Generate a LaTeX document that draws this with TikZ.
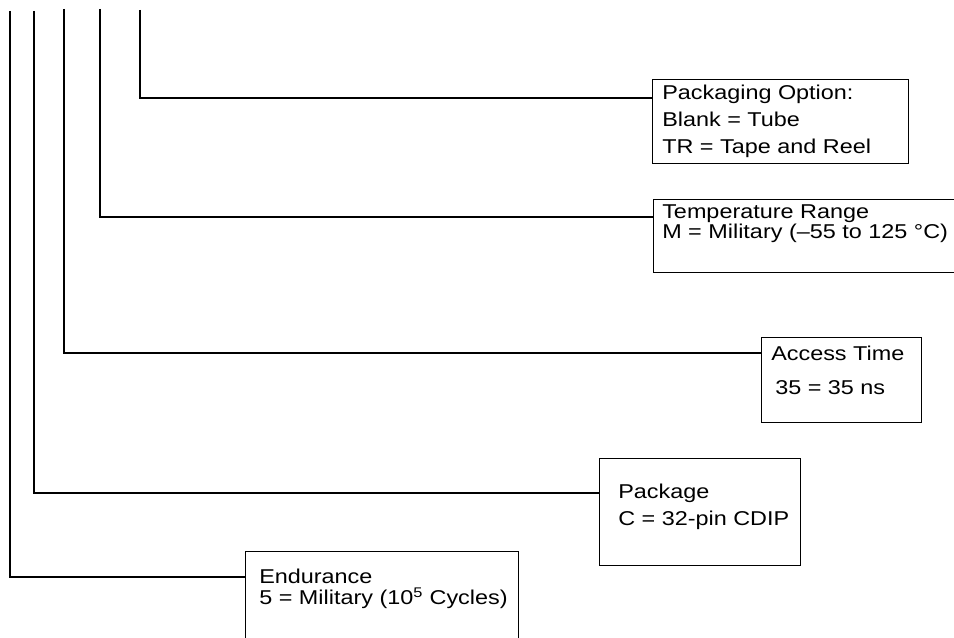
\documentclass[tikz,border=0pt]{standalone}
\usepackage{fontspec}
\setmainfont[FakeStretch=1.17]{Liberation Sans}
\usetikzlibrary{positioning}

\begin{document}
\begin{tikzpicture}[
  x=0.75pt, y=-0.75pt,
  every node/.style = {font=\fontsize{15pt}{15pt}\selectfont},
  optbox/.style = {rectangle, draw=black, line width=1.1pt,
                   inner sep=0pt, anchor=north west},
  txt/.style    = {anchor=base west, inner sep=0pt, align=left},
  lead/.style   = {line width=1.1pt, black},
]
\useasboundingbox (0,0) rectangle (954,638);
\clip (0,0) rectangle (954,638);

%% ── Boxes ────────────────────────────────────────────────────────────────
\node[optbox, minimum width=192pt,    minimum height=63pt]    at (652,79)  (pkgopt) {};
\node[optbox, minimum width=234pt,    minimum height=54.75pt] at (653,199) (temp)   {};
\node[optbox, minimum width=120pt,    minimum height=63.75pt] at (761,337) (access) {};
\node[optbox, minimum width=150.75pt, minimum height=80.25pt] at (599,458) (pkg)    {};
\node[optbox, minimum width=204.75pt, minimum height=82.5pt]  at (245,551) (endur)  {};

%% ── Box texts (anchored on the last line) ───────────────────────────────
\node[txt] at ([shift={(10,75)}]pkgopt.north west) (pkgopt-t) {
  Packaging Option:\\[5.25pt]
  Blank = Tube\\[5.25pt]
  TR = Tape and Reel
};
\node[txt] at ([shift={(9,40)}]temp.north west) (temp-t) {
  Temperature Range\\
  M = Military (–55 to 125 °C)
};
\node[txt] at ([shift={(10,57)}]access.north west) (access-t) {
  Access Time\\[10.5pt]
  \hspace{3pt}35 = 35 ns
};
\node[txt] at ([shift={(19,67)}]pkg.north west) (pkg-t) {
  Package\\[5.25pt]
  C = 32-pin CDIP
};
\node[txt] at ([shift={(14,53)}]endur.north west) (endur-t) {
  Endurance\\[0.75pt]
  5 = Military (10\textsuperscript{5} Cycles)
};

%% ── Leads from the part number ───────────────────────────────────────────
\coordinate (endtop)  at (10,11);
\coordinate (pkgtop)  at (34,11);
\coordinate (acctop)  at (64,9);
\coordinate (temptop) at (100,9);
\coordinate (opttop)  at (140,10);

\draw[lead] (endtop)  |- ([shift={(0,26)}]endur.north west);
\draw[lead] (pkgtop)  |- ([shift={(0,35)}]pkg.north west);
\draw[lead] (acctop)  |- ([shift={(0,16)}]access.north west);
\draw[lead] (temptop) |- ([shift={(0,18)}]temp.north west);
\draw[lead] (opttop)  |- ([shift={(0,19)}]pkgopt.north west);

\end{tikzpicture}
\end{document}
